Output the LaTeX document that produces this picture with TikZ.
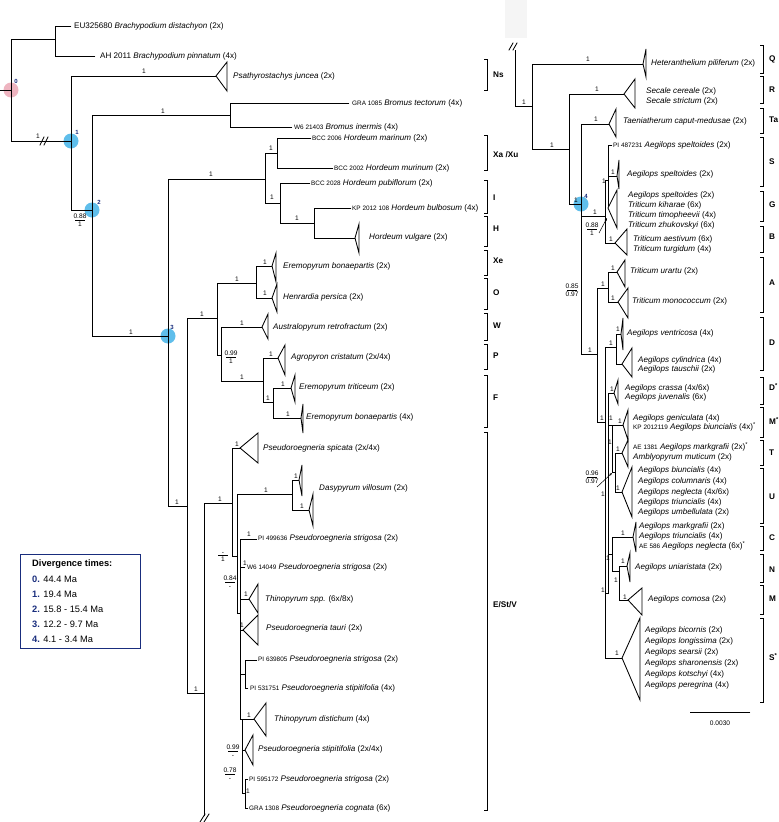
\documentclass[tikz,border=0pt]{standalone}
\usepackage{fontspec}
\setmainfont{Liberation Sans}
\usetikzlibrary{arrows.meta}
\definecolor{navy}{RGB}{25,45,125}
\definecolor{nodeblue}{RGB}{95,190,235}
\definecolor{nodepink}{RGB}{238,180,192}
\newcount\nodecnt
\tikzset{
  ln/.style={line width=0.85pt, line join=miter, line cap=rect},
  tx/.style={anchor=west, inner sep=0pt, font=\fontsize{8.1}{9}\selectfont},
  supst/.style={inner sep=0pt, font=\fontsize{6.6}{7.6}\selectfont, align=center},
  blab/.style={anchor=west, inner sep=0pt, font=\fontsize{8.2}{9}\selectfont\bfseries},
  nnum/.style={inner sep=0pt, text=navy, font=\fontsize{6}{6}\selectfont\bfseries},
  leg/.style={anchor=west, inner sep=0pt, font=\fontsize{9.3}{10}\selectfont},
  arr/.style={line width=0.5pt, -{Stealth[length=3pt,width=2.4pt]}},
}
\newcommand\accn[1]{{\fontsize{6.4}{7}\selectfont #1}}
\newcommand\nodeid{\global\advance\nodecnt by 1 }
\newcommand\taxon[3]{\nodeid\node[tx] (t\the\nodecnt) at (#1,#2) {#3};}
\newcommand\supv[3]{\nodeid\node[supst] (s\the\nodecnt) at (#1,#2) {#3};}
\newcommand\sfr[4]{\nodeid\node[supst] (f\the\nodecnt) at (#1,#2) {\underline{\makebox[10pt]{#3}}\\#4};}
\newcommand\cladetri[5]{\draw[ln, fill=white] (#1,#2) -- (#3,#4) -- (#3,#5) -- cycle;}
\newcommand\cbrk[5]{\draw[ln] ({#1-3},#2) -- (#1,#2) -- (#1,#3) -- ({#1-3},#3); \nodeid\node[blab] (b\the\nodecnt) at ({#1+6},#4) {#5};}
\begin{document}
\begin{tikzpicture}[x=1pt,y=-1pt]
\useasboundingbox (0,0) rectangle (779,822);
\fill[white] (0,0) rectangle (779,822);
\fill[gray!8] (505,0) rectangle (527,38);
% node circles
\fill[nodepink] (11,90) circle (7.5);
\fill[nodeblue] (71,141) circle (7.5);
\fill[nodeblue] (92,210) circle (7.5);
\fill[nodeblue] (168,336) circle (7.5);
\fill[nodeblue] (581,204) circle (7.5);
\nodeid\node[nnum] (k0) at (16,81) {0};
\nodeid\node[nnum] (k1) at (77,132) {1};
\nodeid\node[nnum] (k2) at (99,202) {2};
\nodeid\node[nnum] (k3) at (172,327) {3};
\nodeid\node[nnum] (k4) at (586,196) {4};

% ---------------- left tree ----------------
\draw[ln] (0,90) -- (11,90);
\draw[ln] (55,39) -- (11,39) -- (11,141) -- (71,141);
\draw[ln] (71,26) -- (55,26) -- (55,56) -- (95,56);
\draw[ln] (40,145) -- (44,137);
\draw[ln] (44,145) -- (48,137);
\draw[ln] (216,76) -- (71,76) -- (71,210) -- (92,210);
\cladetri{216}{76}{227}{62}{91}
\draw[ln] (230,115) -- (92,115) -- (92,336) -- (168,336);
\draw[ln] (349,103) -- (230,103) -- (230,127) -- (292,127);
\draw[ln] (265,179) -- (168,179) -- (168,506) -- (187,506);
\draw[ln] (277,153) -- (265,153) -- (265,203) -- (280,203);
\draw[ln] (311,138) -- (277,138) -- (277,168) -- (333,168);
\draw[ln] (310,183) -- (280,183) -- (280,223) -- (314,223);
\draw[ln] (351,208) -- (314,208) -- (314,238) -- (355,238);
\cladetri{355}{238}{359}{224}{253}
\draw[ln] (217,318) -- (187,318) -- (187,693) -- (204,693);
\draw[ln] (256,283) -- (217,283) -- (217,355) -- (221,355);
\draw[ln] (272,266) -- (256,266) -- (256,298) -- (272,298);
\cladetri{272}{266}{276}{253}{282}
\cladetri{272}{298}{277}{284}{312}
\draw[ln] (262,327) -- (221,327) -- (221,381) -- (263,381);
\cladetri{262}{327}{268}{314}{339}
\draw[ln] (278,358) -- (263,358) -- (263,402) -- (273,402);
\cladetri{278}{358}{285}{345}{375}
\draw[ln] (291,388) -- (273,388) -- (273,418) -- (301,418);
\cladetri{291}{388}{295}{375}{402}
\cladetri{301}{418}{303}{404}{433}
% E/St/V
\draw[ln] (232,503) -- (204,503) -- (204,816);
\draw[ln] (200,822) -- (205,814);
\draw[ln] (204,822) -- (209,814);
\draw[ln] (240,448) -- (232,448) -- (232,556) -- (237,556);
\cladetri{240}{448}{258}{433}{463}
\draw[ln] (292,494) -- (237,494) -- (237,613) -- (240,613);
\draw[ln] (299,480) -- (292,480) -- (292,510) -- (309,510);
\cladetri{299}{480}{302}{465}{496}
\cladetri{309}{510}{313}{494}{526}
\draw[ln] (257,539) -- (240,539) -- (240,719);
\draw[ln] (240,567) -- (245,567);
\draw[ln] (240,599) -- (249,599);
\cladetri{249}{599}{258}{584}{613}
\draw[ln] (240,630) -- (243,630);
\cladetri{243}{630}{258}{615}{645}
\draw[ln] (240,674) -- (245,674);
\draw[ln] (257,660) -- (245,660) -- (245,688) -- (248,688);
\draw[ln] (240,719) -- (254,719);
\cladetri{254}{719}{266}{703}{736}
\draw[ln] (240,719) -- (242,719) -- (242,793) -- (245,793);
\draw[ln] (242,750) -- (245,750);
\cladetri{245}{750}{253}{735}{765}
\draw[ln] (248,779) -- (245,779) -- (245,808) -- (248,808);

% ---------------- right tree ----------------
\draw[ln] (509,50) -- (513,43);
\draw[ln] (513,50) -- (517,43);
\draw[ln] (515,50) -- (515,106) -- (532,106);
\draw[ln] (643,64) -- (532,64) -- (532,149) -- (569,149);
\cladetri{643}{64}{646}{49}{77}
\draw[ln] (624,94) -- (569,94) -- (569,204) -- (581,204);
\cladetri{624}{94}{635}{79}{108}
\draw[ln] (609,124) -- (581,124) -- (581,354) -- (597,354);
\cladetri{609}{124}{616}{109}{137}
\draw[ln] (612,145) -- (608,145) -- (608,207);
\draw[ln] (608,176) -- (617,176);
\cladetri{617}{176}{619}{160}{189}
\cladetri{608}{208}{617}{190}{228}
\draw[ln] (581,216) -- (605,216);
\draw[ln] (608,180) -- (605,180) -- (605,243) -- (615,243);
\cladetri{615}{243}{627}{229}{255}
\draw[ln] (608,288) -- (597,288) -- (597,422) -- (605,422);
\draw[ln] (617,272) -- (608,272) -- (608,302) -- (618,302);
\cladetri{617}{272}{625}{260}{287}
\cladetri{618}{302}{628}{288}{318}
\draw[ln] (616,347) -- (605,347) -- (605,658) -- (622,658);
\draw[ln] (621,334) -- (616,334) -- (616,364) -- (622,364);
\cladetri{621}{334}{623}{318}{350}
\cladetri{622}{364}{632}{348}{377}
\draw[ln] (614,393) -- (608,393) -- (608,593) -- (605,593);
\cladetri{614}{393}{618}{380}{404}
\draw[ln] (623,425) -- (608,425);
\draw[ln] (612,425) -- (612,472) -- (615,472);
\cladetri{623}{425}{628}{410}{440}
\draw[ln] (622,453) -- (615,453) -- (615,492) -- (622,492);
\cladetri{622}{453}{628}{440}{467}
\cladetri{622}{492}{632}{467}{517}
\draw[ln] (608,554) -- (612,554);
\draw[ln] (633,537) -- (612,537) -- (612,571) -- (619,571);
\cladetri{633}{537}{636}{522}{552}
\draw[ln] (627,566) -- (619,566) -- (619,600) -- (628,600);
\cladetri{627}{566}{630}{553}{582}
\cladetri{628}{600}{642}{588}{615}
\cladetri{622}{658}{640}{618}{700}
\draw[arr] (599,233) -- (607,218);
\draw[arr] (597,487) -- (612,473);
% scale bar
\draw[ln] (690,712) -- (750,712);
\nodeid\node[supst] (sc) at (720,723) {0.0030};

% ---------------- brackets ----------------
\cbrk{487}{59}{90}{75}{Ns}
\cbrk{487}{135}{170}{155}{Xa /Xu}
\cbrk{487}{180}{213}{198}{I}
\cbrk{487}{216}{246}{229}{H}
\cbrk{487}{250}{275}{261}{Xe}
\cbrk{487}{278}{309}{293}{O}
\cbrk{487}{313}{340}{326}{W}
\cbrk{487}{344}{369}{356}{P}
\cbrk{487}{375}{427}{398}{F}
\cbrk{487}{432}{810}{605}{E/St/V}
\cbrk{763}{45}{73}{59}{Q}
\cbrk{763}{76}{103}{90}{R}
\cbrk{763}{108}{133}{120}{Ta}
\cbrk{763}{137}{186}{162}{S}
\cbrk{763}{191}{221}{205}{G}
\cbrk{763}{226}{252}{237}{B}
\cbrk{763}{257}{312}{283}{A}
\cbrk{763}{317}{370}{343}{D}
\cbrk{763}{377}{404}{387}{D\textsuperscript{*}}
\cbrk{763}{407}{437}{421}{M\textsuperscript{*}}
\cbrk{763}{440}{465}{453}{T}
\cbrk{763}{468}{523}{497}{U}
\cbrk{763}{526}{550}{538}{C}
\cbrk{763}{554}{582}{570}{N}
\cbrk{763}{585}{614}{599}{M}
\cbrk{763}{618}{702}{657}{S\textsuperscript{*}}

% ---------------- left labels ----------------
\taxon{74}{26}{EU325680 \textit{Brachypodium distachyon} (2x)}
\taxon{100}{56}{AH 2011 \textit{Brachypodium pinnatum} (4x)}
\taxon{233}{76}{\textit{Psathyrostachys juncea} (2x)}
\taxon{352}{103}{\accn{GRA 1085} \textit{Bromus tectorum} (4x)}
\taxon{294}{127}{\accn{W6 21403} \textit{Bromus inermis} (4x)}
\taxon{312}{138}{\accn{BCC 2006} \textit{Hordeum marinum} (2x)}
\taxon{334}{168}{\accn{BCC 2002} \textit{Hordeum murinum} (2x)}
\taxon{311}{183}{\accn{BCC 2028} \textit{Hordeum pubiflorum} (2x)}
\taxon{352}{208}{\accn{KP 2012 108} \textit{Hordeum bulbosum} (4x)}
\taxon{369}{237}{\textit{Hordeum vulgare} (2x)}
\taxon{283}{266}{\textit{Eremopyrum bonaepartis} (2x)}
\taxon{283}{297}{\textit{Henrardia persica} (2x)}
\taxon{273}{327}{\textit{Australopyrum retrofractum} (2x)}
\taxon{291}{357}{\textit{Agropyron cristatum} (2x/4x)}
\taxon{299}{387}{\textit{Eremopyrum triticeum} (2x)}
\taxon{306}{417}{\textit{Eremopyrum bonaepartis} (4x)}
\taxon{263}{448}{\textit{Pseudoroegneria spicata} (2x/4x)}
\taxon{319}{488}{\textit{Dasypyrum villosum} (2x)}
\taxon{258}{538}{\accn{PI 499636} \textit{Pseudoroegneria strigosa} (2x)}
\taxon{247}{567}{\accn{W6 14049} \textit{Pseudoroegneria strigosa} (2x)}
\taxon{265}{599}{\textit{Thinopyrum spp.} (6x/8x)}
\taxon{266}{628}{\textit{Pseudoroegneria tauri} (2x)}
\taxon{258}{659}{\accn{PI 639805} \textit{Pseudoroegneria strigosa} (2x)}
\taxon{250}{688}{\accn{PI 531751} \textit{Pseudoroegneria stipitifolia} (4x)}
\taxon{274}{719}{\textit{Thinopyrum distichum} (4x)}
\taxon{258}{749}{\textit{Pseudoroegneria stipitifolia} (2x/4x)}
\taxon{249}{779}{\accn{PI 595172} \textit{Pseudoroegneria strigosa} (2x)}
\taxon{249}{808}{\accn{GRA 1308} \textit{Pseudoroegneria cognata} (6x)}

% ---------------- right labels ----------------
\taxon{651}{63}{\textit{Heteranthelium piliferum} (2x)}
\taxon{646}{91}{\textit{Secale cereale} (2x)}
\taxon{646}{101}{\textit{Secale strictum} (2x)}
\taxon{623}{121}{\textit{Taeniatherum caput-medusae} (2x)}
\taxon{613}{145}{\accn{PI 487231} \textit{Aegilops speltoides} (2x)}
\taxon{627}{174}{\textit{Aegilops speltoides} (2x)}
\taxon{628}{195}{\textit{Aegilops speltoides} (2x)}
\taxon{628}{205}{\textit{Triticum kiharae} (6x)}
\taxon{628}{215}{\textit{Triticum timopheevii} (4x)}
\taxon{628}{225}{\textit{Triticum zhukovskyi} (6x)}
\taxon{633}{239}{\textit{Triticum aestivum} (6x)}
\taxon{633}{249}{\textit{Triticum turgidum} (4x)}
\taxon{630}{271}{\textit{Triticum urartu} (2x)}
\taxon{632}{301}{\textit{Triticum monococcum} (2x)}
\taxon{627}{333}{\textit{Aegilops ventricosa} (4x)}
\taxon{638}{360}{\textit{Aegilops cylindrica} (4x)}
\taxon{638}{369}{\textit{Aegilops tauschii} (2x)}
\taxon{625}{388}{\textit{Aegilops crassa} (4x/6x)}
\taxon{625}{397}{\textit{Aegilops juvenalis} (6x)}
\taxon{633}{418}{\textit{Aegilops geniculata} (4x)}
\taxon{633}{427}{\accn{KP 2012119} \textit{Aegilops biuncialis} (4x)\textsuperscript{*}}
\taxon{633}{447}{\accn{AE 1381} \textit{Aegilops markgrafii} (2x)\textsuperscript{*}}
\taxon{633}{457}{\textit{Amblyopyrum muticum} (2x)}
\taxon{638}{470}{\textit{Aegilops biuncialis} (4x)}
\taxon{638}{481}{\textit{Aegilops columnaris} (4x)}
\taxon{638}{492}{\textit{Aegilops neglecta} (4x/6x)}
\taxon{638}{502}{\textit{Aegilops triuncialis} (4x)}
\taxon{638}{512}{\textit{Aegilops umbellulata} (2x)}
\taxon{639}{526}{\textit{Aegilops markgrafii} (2x)}
\taxon{639}{536}{\textit{Aegilops triuncialis} (4x)}
\taxon{639}{546}{\accn{AE 586} \textit{Aegilops neglecta} (6x)\textsuperscript{*}}
\taxon{635}{567}{\textit{Aegilops uniaristata} (2x)}
\taxon{648}{599}{\textit{Aegilops comosa} (2x)}
\taxon{645}{630}{\textit{Aegilops bicornis} (2x)}
\taxon{645}{641}{\textit{Aegilops longissima} (2x)}
\taxon{645}{652}{\textit{Aegilops searsii} (2x)}
\taxon{645}{663}{\textit{Aegilops sharonensis} (2x)}
\taxon{645}{674}{\textit{Aegilops kotschyi} (4x)}
\taxon{645}{685}{\textit{Aegilops peregrina} (4x)}

% ---------------- support values ----------------
\supv{38}{136}{1}
\supv{144}{71}{1}
\supv{163}{111}{1}
\sfr{80}{220}{0.88}{1}
\supv{131}{332}{1}
\supv{211}{174}{1}
\supv{271}{148}{1}
\supv{272}{197}{1}
\supv{297}{218}{1}
\supv{202}{314}{1}
\supv{237}{279}{1}
\supv{265}{262}{1}
\supv{265}{293}{1}
\supv{242}{323}{1}
\supv{242}{377}{1}
\sfr{231}{357}{0.99}{1}
\supv{271}{354}{1}
\supv{268}{398}{1}
\supv{283}{384}{1}
\supv{288}{414}{1}
\supv{177}{502}{1}
\supv{220}{499}{1}
\supv{196}{689}{1}
\supv{237}{444}{1}
\supv{266}{490}{1}
\supv{296}{476}{1}
\supv{302}{506}{1}
\sfr{223}{557}{-}{1}
\supv{249}{534}{1}
\supv{245}{563}{1}
\sfr{230}{582}{0.84}{-}
\supv{246}{594}{1}
\supv{242}{625}{1}
\supv{249}{715}{1}
\sfr{233}{751}{0.99}{-}
\sfr{230}{774}{0.78}{-}
\supv{248}{791}{1}
\supv{524}{102}{1}
\supv{588}{59}{1}
\supv{552}{145}{1}
\supv{597}{89}{1}
\supv{576}{200}{1}
\supv{596}{119}{1}
\supv{613}{172}{1}
\supv{604}{181}{1}
\supv{595}{212}{1}
\sfr{592}{229}{0.88}{1}
\supv{611}{239}{1}
\sfr{572}{290}{0.85}{0.97}
\supv{603}{284}{1}
\supv{613}{268}{1}
\supv{613}{298}{1}
\supv{590}{350}{1}
\supv{611}{343}{1}
\supv{618}{329}{1}
\supv{602}{418}{1}
\supv{611}{418}{1}
\supv{612}{389}{1}
\supv{620}{421}{1}
\supv{610}{442}{1}
\supv{618}{449}{1}
\supv{618}{488}{1}
\sfr{592}{477}{0.96}{0.97}
\supv{603}{494}{1}
\supv{623}{533}{1}
\supv{608}{558}{1}
\supv{623}{561}{1}
\supv{616}{580}{1}
\supv{625}{597}{1}
\supv{603}{590}{1}
\supv{617}{653}{1}

% ---------------- legend ----------------
\draw[navy, line width=1pt] (20,554) rectangle (140,648);
\nodeid\node[leg, font=\fontsize{9.3}{10}\selectfont\bfseries] (lg0) at (32,564) {Divergence times:};
\nodeid\node[leg] (lg1) at (32,579) {\textcolor{navy}{\bfseries 0.} 44.4 Ma};
\nodeid\node[leg] (lg2) at (32,594) {\textcolor{navy}{\bfseries 1.} 19.4 Ma};
\nodeid\node[leg] (lg3) at (32,609) {\textcolor{navy}{\bfseries 2.} 15.8 - 15.4 Ma};
\nodeid\node[leg] (lg4) at (32,624) {\textcolor{navy}{\bfseries 3.} 12.2 - 9.7 Ma};
\nodeid\node[leg] (lg5) at (32,639) {\textcolor{navy}{\bfseries 4.} 4.1 - 3.4 Ma};
\end{tikzpicture}
\end{document}
